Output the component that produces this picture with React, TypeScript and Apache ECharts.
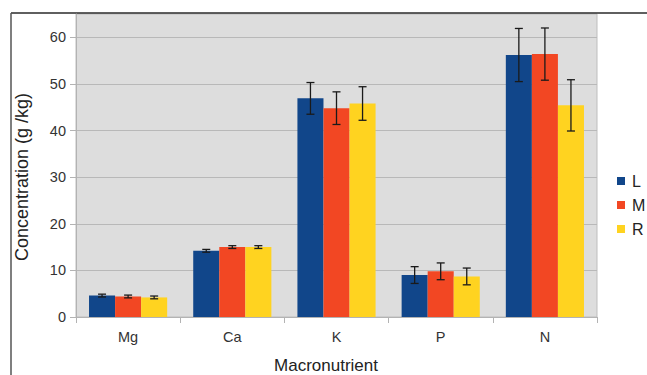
import React, { useEffect, useRef } from "react";
import * as echarts from "echarts";

const categories = ["Mg", "Ca", "K", "P", "N"];
const seriesNames = ["L", "M", "R"];
const valuesL = [4.6, 14.2, 46.9, 9.0, 56.2];
const valuesM = [4.4, 15.0, 44.8, 9.8, 56.4];
const valuesR = [4.2, 15.0, 45.8, 8.7, 45.4];
const errorsL = [0.3, 0.3, 3.4, 1.8, 5.7];
const errorsM = [0.3, 0.3, 3.5, 1.8, 5.6];
const errorsR = [0.3, 0.3, 3.6, 1.8, 5.5];
const yTicks = [0, 10, 20, 30, 40, 50, 60];

const colors = ["#11468a", "#f24723", "#ffd320"];
const FONT = "Liberation Sans, Arial, sans-serif";

export default function App() {
  const ref = useRef<HTMLDivElement>(null);
  useEffect(() => {
    if (!ref.current) return;
    const chart = echarts.init(ref.current, undefined, { renderer: "svg" });
    const vals = [valuesL, valuesM, valuesR];
    const errs = [errorsL, errorsM, errorsR];
    const errData: number[][] = [];
    vals.forEach((arr, s) => {
      arr.forEach((v, i) => {
        errData.push([i, s, v - errs[s][i], v + errs[s][i]]);
      });
    });
    const barCategoryGap = 0.25;
    chart.setOption({
      animation: false,
      textStyle: { fontFamily: FONT },
      grid: {
        left: 76,
        top: 14,
        width: 521,
        height: 303,
        show: true,
        backgroundColor: "#dddddd",
        borderColor: "#bdbdbd",
        borderWidth: 1,
      },
      legend: {
        data: seriesNames,
        orient: "vertical",
        left: 617,
        top: 173,
        padding: 0,
        itemWidth: 8,
        itemHeight: 8,
        itemGap: 8,
        icon: "rect",
        textStyle: { fontSize: 16, color: "#222", fontFamily: FONT, padding: [0, 0, 0, 2] },
      },
      xAxis: {
        type: "category",
        data: categories,
        axisLine: { show: true, lineStyle: { color: "#b3b3b3", width: 1 } },
        axisTick: { show: true, length: 6, lineStyle: { color: "#b3b3b3" } },
        axisLabel: { fontSize: 14.5, color: "#333", margin: 12, fontFamily: FONT },
        splitLine: { show: false },
      },
      yAxis: {
        type: "value",
        min: 0,
        max: 65,
        interval: 10,
        axisLine: { show: true, lineStyle: { color: "#b3b3b3" } },
        axisTick: { show: true, length: 6, lineStyle: { color: "#b3b3b3" }, customValues: yTicks },
        axisLabel: { fontSize: 14.5, color: "#333", margin: 10, fontFamily: FONT, customValues: yTicks },
        splitLine: { show: true, lineStyle: { color: "#b8b8b8", width: 1 } },
      },
      series: [
        ...seriesNames.map((name, s) => ({
          name,
          type: "bar",
          data: vals[s],
          barGap: "0%",
          barCategoryGap: "25%",
          itemStyle: { color: colors[s] },
        })),
        {
          type: "custom",
          data: errData,
          encode: { x: 0, y: [2, 3] },
          z: 10,
          renderItem: (params: any, api: any) => {
            const cat = api.value(0);
            const s = api.value(1);
            const lo = api.value(2);
            const hi = api.value(3);
            const band = api.size([1, 0])[0];
            const bw = (band * (1 - barCategoryGap)) / 3;
            const cx = api.coord([cat, 0])[0] + (s - 1) * bw;
            const yTop = api.coord([cat, hi])[1];
            const yBot = api.coord([cat, lo])[1];
            const hw = 4;
            const st = { stroke: "#1a1a1a", lineWidth: 1.3 };
            return {
              type: "group",
              children: [
                { type: "line", shape: { x1: cx, y1: yTop, x2: cx, y2: yBot }, style: st },
                { type: "line", shape: { x1: cx - hw, y1: yTop, x2: cx + hw, y2: yTop }, style: st },
                { type: "line", shape: { x1: cx - hw, y1: yBot, x2: cx + hw, y2: yBot }, style: st },
              ],
            };
          },
        },
      ],
      graphic: [
        { type: "line", shape: { x1: 11, y1: 13, x2: 647, y2: 13 }, style: { stroke: "#2a2a2a", lineWidth: 1.5 } },
        { type: "line", shape: { x1: 11, y1: 13, x2: 11, y2: 375 }, style: { stroke: "#555", lineWidth: 1.5 } },
        {
          type: "text",
          x: 22,
          y: 177,
          rotation: Math.PI / 2,
          style: {
            text: "Concentration (g /kg)",
            fontSize: 18,
            fontFamily: FONT,
            fill: "#222",
            align: "center",
            verticalAlign: "middle",
          },
        },
        {
          type: "text",
          x: 326,
          y: 365,
          style: {
            text: "Macronutrient",
            fontSize: 17,
            fontFamily: FONT,
            fill: "#222",
            align: "center",
            verticalAlign: "middle",
          },
        },
      ],
    });
    return () => chart.dispose();
  }, []);
  return (
    <div
      ref={ref}
      style={{ position: "absolute", left: 0, top: 0, width: 647, height: 375, background: "#fff" }}
    />
  );
}
